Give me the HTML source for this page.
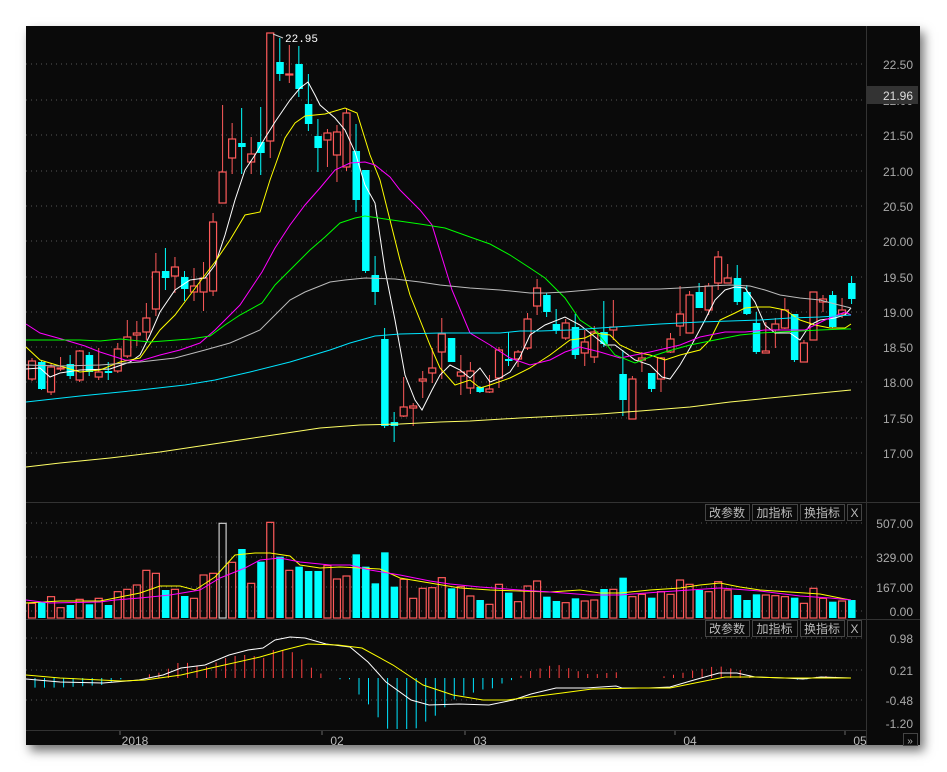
<!DOCTYPE html><html><head><meta charset="utf-8"><style>
body{margin:0;background:#fff;width:947px;height:772px;overflow:hidden;font-family:"Liberation Sans","Noto Sans CJK SC",sans-serif}
#p{position:absolute;left:26px;top:26px;width:894px;height:719px;background:#0a0a0a;box-shadow:4px 6px 10px rgba(0,0,0,.55)}
svg{position:absolute;left:0;top:0}
</style></head><body><div id="p"></div>
<svg id="s" width="947" height="772" xmlns="http://www.w3.org/2000/svg" font-family="Liberation Sans, Noto Sans CJK SC, sans-serif"></svg>
<script>
var S=document.getElementById('s'),h='';
function X(i){return 32+9.53*i}
var pl=[[22.5,64],[22,100],[21.5,135],[21,171],[20.5,206],[20,241],[19.5,277],[19,312],[18.5,347],[18,382],[17.5,418],[17,453]];
pl.forEach(function(a){h+='<line x1="26" x2="866" y1="'+a[1]+'" y2="'+a[1]+'" stroke="#555" stroke-dasharray="1,4"/>';
h+='<text x="913" y="'+(a[1]+5)+'" fill="#aaa" font-size="12" text-anchor="end">'+a[0].toFixed(2)+'</text>'});
[[523,'507.00'],[557,'329.00'],[587,'167.00'],[611,'0.00']].forEach(function(a){h+='<line x1="26" x2="866" y1="'+a[0]+'" y2="'+a[0]+'" stroke="#555" stroke-dasharray="1,4"/><text x="913" y="'+(a[0]+5)+'" fill="#aaa" font-size="12" text-anchor="end">'+a[1]+'</text>'});
[[638,'0.98'],[670,'0.21'],[700,'-0.48'],[723,'-1.20']].forEach(function(a,i){if(i<3)h+='<line x1="26" x2="866" y1="'+a[0]+'" y2="'+a[0]+'" stroke="#555" stroke-dasharray="1,4"/>';h+='<text x="913" y="'+(a[0]+5)+'" fill="#aaa" font-size="12" text-anchor="end">'+a[1]+'</text>'});
h+='<line x1="866.5" x2="866.5" y1="26" y2="745" stroke="#333"/>';
h+='<line x1="26" x2="920" y1="502.5" y2="502.5" stroke="#333"/><line x1="26" x2="920" y1="619.5" y2="619.5" stroke="#333"/><line x1="26" x2="866" y1="730.5" y2="730.5" stroke="#333"/>';
var C=[[361,379,358,381,1],[362,389,361,390,0],[367,392,363,395,1],[368,369,357,371,1],[364,376,355,379,0],[351,380,350,382,1],[355,372,352,376,0],[372,377,348,380,1],[371,373,362,380,0],[349,371,343,373,1],[337,356,320,358,1],[333,335,321,346,1],[318,332,303,340,1],[272,309,253,316,1],[271,278,248,290,0],[267,276,257,293,1],[277,289,271,301,0],[286,292,268,301,1],[278,292,262,311,1],[222,291,213,296,1],[172,203,105,203,1],[139,158,123,174,1],[143,147,108,174,0],[154,162,137,174,1],[142,153,107,175,0],[33,141,33,158,1],[62,74,38,81,0],[74,74,45,83,1],[64,89,46,97,0],[104,124,74,131,0],[136,148,119,172,0],[133,140,129,167,1],[132,155,125,182,1],[113,167,108,171,1],[151,200,124,212,0],[170,271,170,273,0],[275,292,256,305,0],[339,426,328,428,0],[422,426,412,442,0],[407,416,377,417,1],[406,408,403,426,1],[379,381,371,398,1],[368,373,348,383,1],[334,352,318,379,1],[338,362,338,362,0],[372,376,355,395,1],[371,388,362,394,1],[387,392,386,393,0],[389,392,375,393,1],[350,378,347,388,1],[359,361,332,366,0],[352,359,350,367,1],[319,348,313,350,1],[288,306,279,315,1],[295,312,293,317,0],[324,330,309,334,0],[323,338,319,340,1],[327,355,314,359,0],[342,353,330,366,1],[332,357,326,363,1],[332,344,301,347,0],[327,330,300,340,1],[374,400,350,416,0],[379,419,376,419,1],[358,360,352,372,1],[373,389,373,392,0],[358,379,357,392,1],[339,352,333,353,1],[314,326,286,336,1],[295,333,291,333,1],[292,308,283,308,0],[286,310,283,315,1],[257,283,251,290,1],[278,283,264,283,1],[278,302,265,305,0],[292,314,285,315,0],[323,352,312,354,0],[351,353,322,353,1],[324,330,318,348,1],[310,328,298,329,1],[314,360,314,362,0],[343,362,340,362,1],[292,340,292,340,1],[299,302,295,312,1],[295,327,291,328,0],[310,314,298,318,1],[283,299,276,304,0]];
C.forEach(function(c,i){var x=X(i),col=c[4]?'#ff5a5a':'#00ffff';
h+='<line x1="'+x+'" x2="'+x+'" y1="'+c[2]+'" y2="'+c[3]+'" stroke="'+col+'"/>';
var bh=Math.max(c[1]-c[0],1);
if(c[4])h+='<rect x="'+(x-3.5)+'" y="'+c[0]+'" width="7" height="'+bh+'" fill="#0a0a0a" stroke="'+col+'" stroke-width="1.2"/>';
else h+='<rect x="'+(x-3.5)+'" y="'+c[0]+'" width="7.5" height="'+bh+'" fill="'+col+'"/>';});
function L(p,c,w){h+='<polyline fill="none" stroke="'+c+'" stroke-width="'+(w||1)+'" points="'+p.map(function(a){return a.join(',')}).join(' ')+'"/>'}
L([[26,369],[40,368],[50,377],[60,373],[80,370],[110,369],[130,362],[140,355],[150,335],[160,312],[175,290],[190,280],[205,278],[215,265],[225,235],[235,200],[245,170],[255,155],[265,138],[275,122],[290,100],[300,88],[308,82],[315,95],[320,105],[335,118],[345,130],[355,152],[365,185],[375,203],[385,270],[395,320],[405,375],[415,400],[422,410],[432,390],[440,375],[450,365],[460,370],[470,378],[480,368],[490,382],[500,378],[510,372],[520,357],[530,335],[545,325],[565,317],[580,325],[590,333],[605,345],[615,345],[635,360],[650,365],[662,377],[670,379],[680,365],[690,348],[705,320],[715,300],[725,290],[735,287],[745,288],[755,302],[765,325],[775,333],[790,333],[800,340],[810,325],[820,320],[835,318],[845,315],[851,308]],'#fff');
L([[26,347],[40,360],[60,366],[80,372],[100,370],[120,362],[140,358],[160,330],[175,315],[190,295],[205,275],[215,262],[230,240],[245,215],[260,212],[270,180],[285,138],[295,123],[305,116],[325,114],[345,108],[357,113],[370,155],[380,180],[390,220],[400,260],[410,295],[420,320],[430,345],[440,368],[455,385],[470,380],[480,388],[490,385],[510,378],[530,368],[550,355],[570,340],[585,338],[595,333],[610,335],[620,345],[635,352],[650,355],[665,360],[680,355],[700,350],[710,340],[720,320],[735,313],[745,308],[755,307],[770,307],[785,310],[800,320],[815,325],[830,328],[845,328],[851,324]],'#ffff00');
L([[26,324],[40,333],[65,340],[85,346],[100,352],[125,360],[140,361],[160,355],[180,350],[200,343],[215,330],[240,305],[262,272],[275,248],[290,225],[305,205],[320,188],[335,170],[350,163],[365,162],[375,165],[390,177],[400,190],[420,210],[432,225],[452,290],[470,333],[490,345],[510,358],[530,365],[550,360],[565,352],[580,347],[600,352],[620,358],[650,352],[680,345],[700,337],[725,332],[745,332],[765,330],[785,330],[805,330],[825,320],[845,312],[851,315]],'#ff00ff');
L([[26,340],[80,340],[100,341],[120,339],[150,342],[190,339],[210,336],[225,325],[240,315],[262,303],[275,285],[292,268],[310,250],[325,237],[340,223],[355,218],[365,216],[385,219],[420,224],[445,228],[470,237],[490,244],[510,255],[530,268],[545,278],[565,298],[580,320],[595,330],[615,355],[635,363],[650,357],[665,352],[690,345],[715,340],[740,335],[760,333],[780,332],[800,331],[820,330],[845,329],[851,329]],'#00ff00');
L([[26,365],[60,366],[100,365],[140,362],[175,358],[205,350],[230,343],[260,330],[275,315],[290,300],[305,292],[330,282],[345,280],[365,278],[395,279],[420,282],[440,285],[470,288],[500,290],[530,293],[545,293],[565,292],[600,289],[660,289],[680,288],[710,286],[730,285],[750,286],[765,290],[780,295],[800,298],[820,300],[835,304],[851,308]],'#bbbbbb');
L([[26,402],[80,396],[140,390],[185,385],[215,380],[250,372],[290,362],[330,350],[350,343],[375,336],[400,334],[440,333],[500,333],[520,331],[540,331],[570,330],[600,328],[630,326],[660,324],[700,322],[730,321],[760,320],[790,318],[820,317],[851,315]],'#00e5ff');
L([[26,467],[60,463],[110,458],[160,452],[200,446],[240,440],[280,434],[320,428],[360,425],[400,424],[440,422],[470,421],[520,418],[560,416],[600,414],[640,411],[690,407],[730,402],[770,398],[810,394],[851,390]],'#ffff66');
h+='<line x1="273" y1="34" x2="283" y2="38" stroke="#ccc"/><text x="285" y="42" fill="#fff" font-size="11" font-family="Liberation Mono, monospace">22.95</text>';
h+='<rect x="866" y="86" width="52" height="18" fill="#333"/><text x="913" y="100" fill="#ddd" font-size="12" text-anchor="end">21.96</text>';
var V=[325,320,305,338,330,313,328,310,330,290,283,270,226,235,285,283,303,310,240,235,85,202,162,265,200,82,185,226,215,228,228,212,252,243,178,215,265,172,275,253,310,280,278,248,280,275,303,315,328,268,293,320,273,258,305,318,323,310,318,315,282,283,248,305,298,308,290,298,255,268,285,290,260,285,300,315,298,300,302,305,308,325,280,310,320,318,315];
V.forEach(function(v,i){var t=495+v/3,x=X(i),up=C[i]?C[i][4]:1,col=up?'#ff5a5a':'#00ffff';
if(i==20)col='#ccc';
if(up)h+='<rect x="'+(x-3.5)+'" y="'+t+'" width="7" height="'+(618-t)+'" fill="none" stroke="'+col+'" stroke-width="1.2"/>';
else h+='<rect x="'+(x-3.5)+'" y="'+t+'" width="7.5" height="'+(618-t)+'" fill="'+col+'"/>';});
L([[26,603],[60,601],[100,601],[120,597],[140,593],[160,586],[180,586],[195,590],[215,577],[235,555],[255,553],[270,553],[290,556],[300,565],[320,568],[340,567],[360,568],[380,569],[400,578],[430,583],[460,588],[490,590],[520,591],[550,592],[580,590],[600,593],[620,593],[650,590],[680,588],[700,585],[720,583],[740,587],[760,590],[790,592],[820,594],[845,599],[851,600]],'#ffff00');
L([[26,600],[50,603],[100,602],[115,600],[140,598],[170,595],[200,590],[220,578],[245,568],[260,560],[280,558],[300,562],[330,565],[350,565],[370,570],[400,575],[430,581],[450,584],[480,587],[520,590],[550,592],[590,595],[620,595],[660,592],[690,590],[720,588],[760,591],[800,596],[830,598],[851,600]],'#ff00ff');
var W=[[26,679],[60,682],[103,683],[139,680],[163,675],[181,668],[205,665],[229,655],[248,650],[263,648],[275,640],[290,637],[305,638],[326,644],[350,647],[368,662],[386,682],[411,700],[429,705],[459,704],[489,705],[513,700],[531,694],[556,688],[586,688],[616,686],[622,688],[649,688],[670,687],[694,680],[719,673],[737,673],[755,677],[785,678],[803,679],[821,677],[851,678]];
var Y=[[26,675],[60,678],[121,681],[145,680],[181,675],[211,668],[260,657],[284,650],[308,644],[338,645],[362,648],[393,665],[423,685],[453,695],[483,700],[507,700],[531,697],[562,693],[592,689],[640,688],[670,688],[700,682],[725,677],[755,677],[785,678],[851,678]];
function I(p,x){for(var k=1;k<p.length;k++)if(x<=p[k][0]){var a=p[k-1],b=p[k];return a[1]+(b[1]-a[1])*(x-a[0])/(b[0]-a[0])}return p[p.length-1][1]}
for(var i=0;i<87;i++){var x=X(i)+3;var d=(I(Y,x)-I(W,x))*2.4;if(Math.abs(d)<1)continue;
var y2=678-d;y2=Math.max(650,Math.min(729,y2));h+='<line x1="'+x.toFixed(1)+'" x2="'+x.toFixed(1)+'" y1="678" y2="'+y2.toFixed(1)+'" stroke="'+(d>0?'#ff4040':'#00e5ff')+'"/>';}
L(W,'#fff');L(Y,'#ffff00');
[504,620].forEach(function(y){[[705,44,'改参数'],[752,45,'加指标'],[800,44,'换指标']].forEach(function(b){h+='<rect x="'+b[0]+'.5" y="'+y+'.5" width="'+b[1]+'" height="16" fill="#0a0a0a" stroke="#444"/><text x="'+(b[0]+b[1]/2)+'" y="'+(y+13)+'" fill="#bbb" font-size="12" text-anchor="middle">'+b[2]+'</text>'});
h+='<rect x="847.5" y="'+y+'.5" width="14" height="16" fill="#0a0a0a" stroke="#444"/><text x="854.5" y="'+(y+13)+'" fill="#bbb" font-size="12" text-anchor="middle">X</text>'});
[[135,'2018'],[337,'02'],[480,'03'],[690,'04'],[860,'05']].forEach(function(d){h+='<line x1="'+(d[0]-15)+'" x2="'+(d[0]-15)+'" y1="731" y2="735" stroke="#666"/><text x="'+d[0]+'" y="745" fill="#bbb" font-size="12" text-anchor="middle">'+d[1]+'</text>'});
h+='<rect x="903.5" y="733.5" width="14" height="12" fill="#0a0a0a" stroke="#444"/><text x="910" y="744" fill="#bbb" font-size="10" text-anchor="middle">»</text>';
S.innerHTML=h;
</script></body></html>
